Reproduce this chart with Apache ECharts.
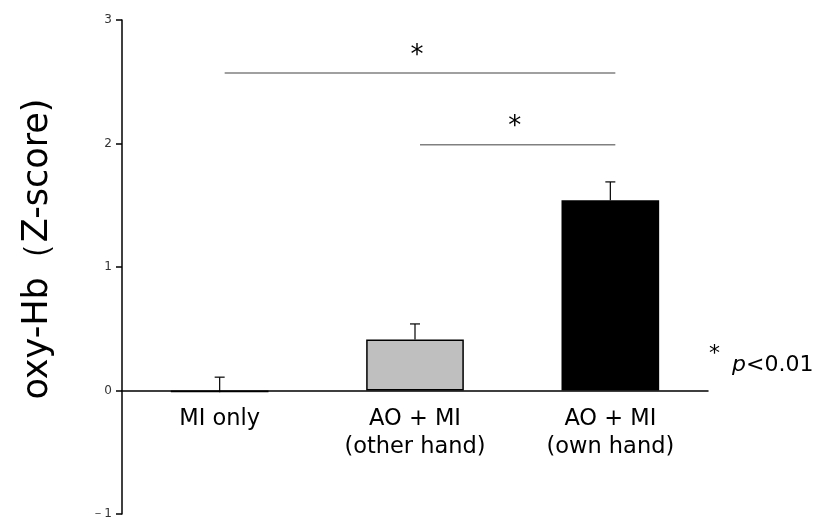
<!DOCTYPE html>
<html><head><meta charset="utf-8">
<script src="https://cdn.jsdelivr.net/npm/echarts@6/dist/echarts.min.js"></script>
<style>html,body{margin:0;padding:0;background:#fff}#c{width:822px;height:522px}</style>
</head><body><div id="c"></div>
<script>
var categories = ['MI only', 'AO + MI\n(other hand)', 'AO + MI\n(own hand)'];
var means = [-0.015, 0.413, 1.541];
var errors = [0.123, 0.126, 0.148];
var barColors = ['#ffffff', '#bfbfbf', '#000000'];
var yTicks = [-1, 0, 1, 2, 3];
// significance brackets: [fromIndex, toIndex, yValue, label]
var brackets = [[0, 2, 2.57, '*'], [1, 2, 1.99, '*']];
var noteStar = '*';
var noteP = 'p';
var noteText = '<0.01';
var yTitle = 'oxy-Hb（Z-score)';

var chart = echarts.init(document.getElementById('c'), null, {renderer: 'canvas'});
var FONT = 'DejaVu Sans';
chart.setOption({
  animation: false,
  backgroundColor: '#fff',
  grid: {left: 122, right: 114, top: 20, bottom: 8, containLabel: false, outerBoundsMode: 'none'},
  xAxis: {
    type: 'category', data: categories,
    axisLine: {onZero: true, lineStyle: {color: '#000', width: 1.5}},
    axisTick: {show: false},
    axisLabel: {show: false}
  },
  yAxis: {
    type: 'value', min: -1, max: 3, interval: 1,
    splitLine: {show: false},
    axisLine: {show: true, lineStyle: {color: '#000', width: 1.5}},
    axisTick: {show: true, inside: false, length: 6, lineStyle: {color: '#000', width: 1.5}},
    axisLabel: {color: '#333', fontFamily: FONT, fontSize: 12, margin: 10,
      formatter: function (v) { return v < 0 ? '－' + Math.abs(v) : String(v); }}
  },
  series: [
    {
      type: 'bar', barWidth: '50%',
      data: means.map(function (v, i) {
        return {value: v, itemStyle: {color: barColors[i], borderColor: '#000', borderWidth: 1.5}};
      }),
      z: 2
    },
    {
      type: 'custom', z: 3,
      data: means.map(function (v, i) { return [i, v, v + errors[i]]; }),
      renderItem: function (params, api) {
        var lo = api.coord([api.value(0), api.value(1)]);
        var hi = api.coord([api.value(0), api.value(2)]);
        var cap = 5;
        return {type: 'group', children: [
          {type: 'line', shape: {x1: lo[0], y1: lo[1], x2: hi[0], y2: hi[1]}, style: {stroke: '#000', lineWidth: 1.2}},
          {type: 'line', shape: {x1: hi[0] - cap, y1: hi[1], x2: hi[0] + cap, y2: hi[1]}, style: {stroke: '#000', lineWidth: 1.2}}
        ]};
      }
    },
    {
      // category labels placed just below the zero line
      type: 'custom', z: 3, silent: true,
      data: categories.map(function (c, i) { return [i, 0]; }),
      renderItem: function (params, api) {
        var p = api.coord([api.value(0), api.value(1)]);
        return {type: 'text', style: {text: categories[params.dataIndex], x: p[0], y: p[1] + 15,
          textAlign: 'center', textVerticalAlign: 'top', font: '22.5px ' + FONT, lineHeight: 28, fill: '#000'}};
      }
    },
    {
      type: 'custom', z: 3,
      data: brackets.map(function (b) { return [b[0], b[1], b[2], b[3]]; }),
      renderItem: function (params, api) {
        var a = api.coord([api.value(0), api.value(2)]);
        var b = api.coord([api.value(1), api.value(2)]);
        var x1 = a[0] + 5, x2 = b[0] + 5;
        return {type: 'group', children: [
          {type: 'line', shape: {x1: x1, y1: a[1], x2: x2, y2: a[1]}, style: {stroke: '#808080', lineWidth: 1.5}},
          {type: 'text', style: {text: brackets[params.dataIndex][3], x: (x1 + x2) / 2 - 3, y: a[1] - 17,
            textAlign: 'center', textVerticalAlign: 'middle', font: '26px ' + FONT, fill: '#000'}}
        ]};
      }
    }
  ],
  graphic: [
    {type: 'text', left: 709, top: 343, style: {text: noteStar, font: '22px ' + FONT, fill: '#000'}},
    {type: 'text', left: 732, top: 354, style: {text: '{i|' + noteP + '}{n|' + noteText + '}',
      rich: {i: {font: 'italic 22px ' + FONT, fill: '#000'}, n: {font: '22px ' + FONT, fill: '#000'}}}},
    {type: 'text', x: 38, y: 249, rotation: Math.PI / 2,
      style: {text: yTitle, font: '35px ' + FONT, fill: '#000', textAlign: 'center', textVerticalAlign: 'middle'}}
  ]
});
</script></body></html>
